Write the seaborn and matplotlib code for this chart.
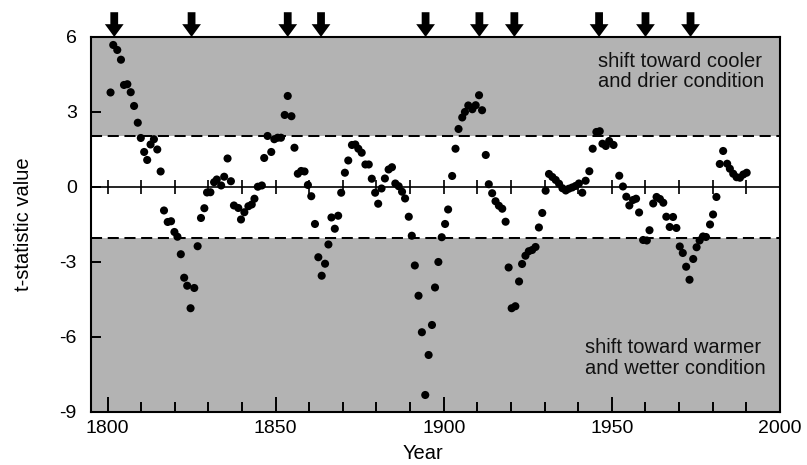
import numpy as np
import pandas as pd
import matplotlib
matplotlib.use("Agg")
import matplotlib.pyplot as plt
from matplotlib.ticker import MultipleLocator, FixedLocator
import seaborn as sns

# Running t-statistic of the regime-shift test, one value per year
years = [
    1800.9, 1801.7, 1802.9, 1804.0, 1804.9, 1805.9, 1806.9, 1807.9, 1809.0, 1809.9,
    1810.9, 1811.8, 1812.8, 1813.8, 1814.8, 1815.8, 1816.8, 1817.9, 1818.9, 1819.9,
    1820.8, 1821.8, 1822.8, 1823.7, 1824.7, 1825.8, 1826.8, 1827.8, 1828.8, 1829.6,
    1830.6, 1831.7, 1832.5, 1833.8, 1834.7, 1835.7, 1836.7, 1837.6, 1838.9, 1839.7,
    1840.7, 1841.9, 1842.9, 1843.7, 1844.7, 1845.9, 1846.6, 1847.6, 1848.7, 1849.6,
    1850.6, 1851.6, 1852.7, 1853.6, 1854.7, 1855.6, 1856.6, 1857.6, 1858.6, 1859.6,
    1860.6, 1861.7, 1862.7, 1863.7, 1864.7, 1865.7, 1866.6, 1867.6, 1868.6, 1869.5,
    1870.6, 1871.6, 1872.7, 1873.7, 1874.6, 1875.6, 1876.7, 1877.7, 1878.6, 1879.6,
    1880.5, 1881.5, 1882.5, 1883.6, 1884.6, 1885.6, 1886.6, 1887.6, 1888.5, 1889.6,
    1890.5, 1891.4, 1892.5, 1893.5, 1894.5, 1895.5, 1896.5, 1897.4, 1898.4, 1899.4,
    1900.4, 1901.3, 1902.5, 1903.5, 1904.4, 1905.5, 1906.3, 1907.3, 1908.5, 1909.5,
    1910.5, 1911.4, 1912.5, 1913.4, 1914.4, 1915.4, 1916.4, 1917.4, 1918.4, 1919.3,
    1920.2, 1921.3, 1922.4, 1923.3, 1924.3, 1925.3, 1926.3, 1927.3, 1928.3, 1929.3,
    1930.3, 1931.3, 1932.3, 1933.3, 1934.3, 1935.3, 1936.3, 1937.2, 1938.2, 1939.2,
    1940.2, 1941.2, 1942.2, 1943.3, 1944.3, 1945.4, 1946.4, 1947.2, 1948.2, 1949.2,
    1950.5, 1952.2, 1953.3, 1954.3, 1955.2, 1956.3, 1957.2, 1958.1, 1959.3, 1960.4,
    1961.2, 1962.3, 1963.3, 1964.3, 1965.3, 1966.2, 1967.2, 1968.2, 1969.2, 1970.2,
    1971.1, 1972.1, 1973.1, 1974.2, 1975.2, 1976.1, 1977.1, 1978.0, 1979.2, 1980.1,
    1981.1, 1982.1, 1983.1, 1984.3, 1985.1, 1986.1, 1987.1, 1988.1, 1989.1, 1990.1,
]
t_values = [
    3.78, 5.68, 5.48, 5.09, 4.08, 4.11, 3.79, 3.24, 2.57, 1.96,
    1.40, 1.08, 1.70, 1.91, 1.50, 0.62, -0.94, -1.40, -1.37, -1.80,
    -1.99, -2.69, -3.63, -3.95, -4.85, -4.04, -2.37, -1.24, -0.85, -0.22,
    -0.21, 0.19, 0.30, 0.06, 0.41, 1.14, 0.23, -0.74, -0.84, -1.30,
    -1.01, -0.77, -0.70, -0.47, 0.01, 0.06, 1.16, 2.04, 1.40, 1.91,
    1.97, 1.97, 2.88, 3.64, 2.83, 1.57, 0.53, 0.64, 0.62, 0.08,
    -0.37, -1.48, -2.81, -3.55, -3.07, -2.30, -1.22, -1.67, -1.15, -0.23,
    0.57, 1.06, 1.68, 1.70, 1.53, 1.37, 0.90, 0.90, 0.33, -0.23,
    -0.67, -0.06, 0.34, 0.70, 0.79, 0.14, 0.03, -0.19, -0.46, -1.19,
    -1.95, -3.14, -4.35, -5.81, -8.32, -6.72, -5.52, -4.02, -3.00, -2.01,
    -1.48, -0.90, 0.44, 1.53, 2.32, 2.78, 3.00, 3.26, 3.11, 3.27,
    3.67, 3.07, 1.28, 0.11, -0.25, -0.57, -0.75, -0.87, -1.39, -3.22,
    -4.85, -4.77, -3.78, -3.08, -2.75, -2.57, -2.52, -2.40, -1.62, -1.04,
    -0.15, 0.52, 0.40, 0.28, 0.13, -0.05, -0.14, -0.07, -0.02, 0.04,
    0.14, -0.23, 0.25, 0.63, 1.53, 2.20, 2.23, 1.73, 1.64, 1.84,
    1.68, 0.45, 0.02, -0.39, -0.74, -0.52, -0.47, -1.02, -2.12, -2.14,
    -1.73, -0.66, -0.40, -0.48, -0.63, -1.19, -1.60, -1.20, -1.64, -2.38,
    -2.64, -3.19, -3.71, -2.88, -2.41, -2.14, -1.98, -2.00, -1.50, -1.10,
    -0.40, 0.92, 1.44, 0.93, 0.73, 0.53, 0.39, 0.37, 0.50, 0.57,
]

# Years flagged as regime shifts (arrows above the frame)
shift_years = [1802.0, 1825.0, 1853.6, 1863.5, 1894.6, 1910.6, 1921.0, 1946.2, 1960.0, 1973.4]

t_critical = 2.04
y_ticks = [-9, -6, -3, 0, 3, 6]
x_major = [1800, 1850, 1900, 1950, 2000]
x_limits = (1795, 2000)
y_limits = (-9, 6)

upper_note = "shift toward cooler\nand drier condition"
lower_note = "shift toward warmer\nand wetter condition"

sns.set_theme(style="ticks")
plt.rcParams["font.family"] = ["Liberation Sans", "DejaVu Sans"]
plt.rcParams["axes.linewidth"] = 1.5
plt.rcParams["axes.unicode_minus"] = False

fig = plt.figure(figsize=(8.07, 4.65), dpi=100)
ax = fig.add_axes([0.1124, 0.1140, 0.8541, 0.8065])

shade = "#b3b3b3"
ax.axhspan(t_critical, y_limits[1], color=shade, lw=0, zorder=0)
ax.axhspan(y_limits[0], -t_critical, color=shade, lw=0, zorder=0)
for level in (t_critical, -t_critical):
    ax.axhline(level, color="black", lw=1.45, dashes=(5.5, 2.8), zorder=1)

df = pd.DataFrame({"Year": years, "t": t_values})
sns.scatterplot(data=df, x="Year", y="t", ax=ax, color="black", s=34,
                linewidth=0, edgecolor="none", zorder=4, legend=False)

ax.set_xlim(*x_limits)
ax.set_ylim(*y_limits)

# zero line carrying decade ticks that cross it
zero_pos = (0 - y_limits[0]) / (y_limits[1] - y_limits[0])
zero_axis = ax.secondary_xaxis(zero_pos)
zero_axis.xaxis.set_major_locator(FixedLocator(np.arange(1800, 2000, 10)))
zero_axis.tick_params(axis="x", which="both", direction="inout", length=9.5, width=1.3,
                      top=True, bottom=True, labeltop=False, labelbottom=False)
for sp in zero_axis.spines.values():
    sp.set_linewidth(1.2)
    sp.set_color("black")

ax.xaxis.set_major_locator(FixedLocator(x_major))
ax.xaxis.set_minor_locator(MultipleLocator(10))
ax.yaxis.set_major_locator(FixedLocator(y_ticks))
ax.tick_params(axis="x", which="major", direction="in", length=10.8, width=1.4,
               labelsize=14, pad=6, top=False, color="black", labelcolor="black")
ax.tick_params(axis="x", which="minor", direction="in", length=7.2, width=1.4, top=False,
               color="black")
ax.tick_params(axis="y", which="major", direction="in", length=7, width=1.4,
               labelsize=14, pad=10, right=False, color="black", labelcolor="black")
for sp in ax.spines.values():
    sp.set_visible(True)
    sp.set_color("black")
    sp.set_linewidth(1.5)

ax.set_xlabel("Year", fontsize=14.5, color="black")
ax.set_ylabel("t-statistic value", fontsize=14.5, color="black")
ax.xaxis.set_label_coords(0.482, -0.085)
ax.yaxis.set_label_coords(-0.084, 0.5)

ax.text(0.7355, 0.908, upper_note, transform=ax.transAxes, ha="left", va="center",
        fontsize=14.5, linespacing=1.12, color="#111111")
ax.text(0.7171, 0.1445, lower_note, transform=ax.transAxes, ha="left", va="center",
        fontsize=14.5, linespacing=1.12, color="#111111")

for yr in shift_years:
    ax.annotate("", xy=(yr, 1.0), xycoords=("data", "axes fraction"),
                xytext=(yr, 1.066), textcoords=("data", "axes fraction"),
                arrowprops=dict(arrowstyle="simple,head_length=0.92,head_width=1.35,tail_width=0.56",
                                color="black", lw=0, shrinkA=0, shrinkB=0, mutation_scale=10),
                annotation_clip=False)

fig.savefig("out.png", dpi=100)
